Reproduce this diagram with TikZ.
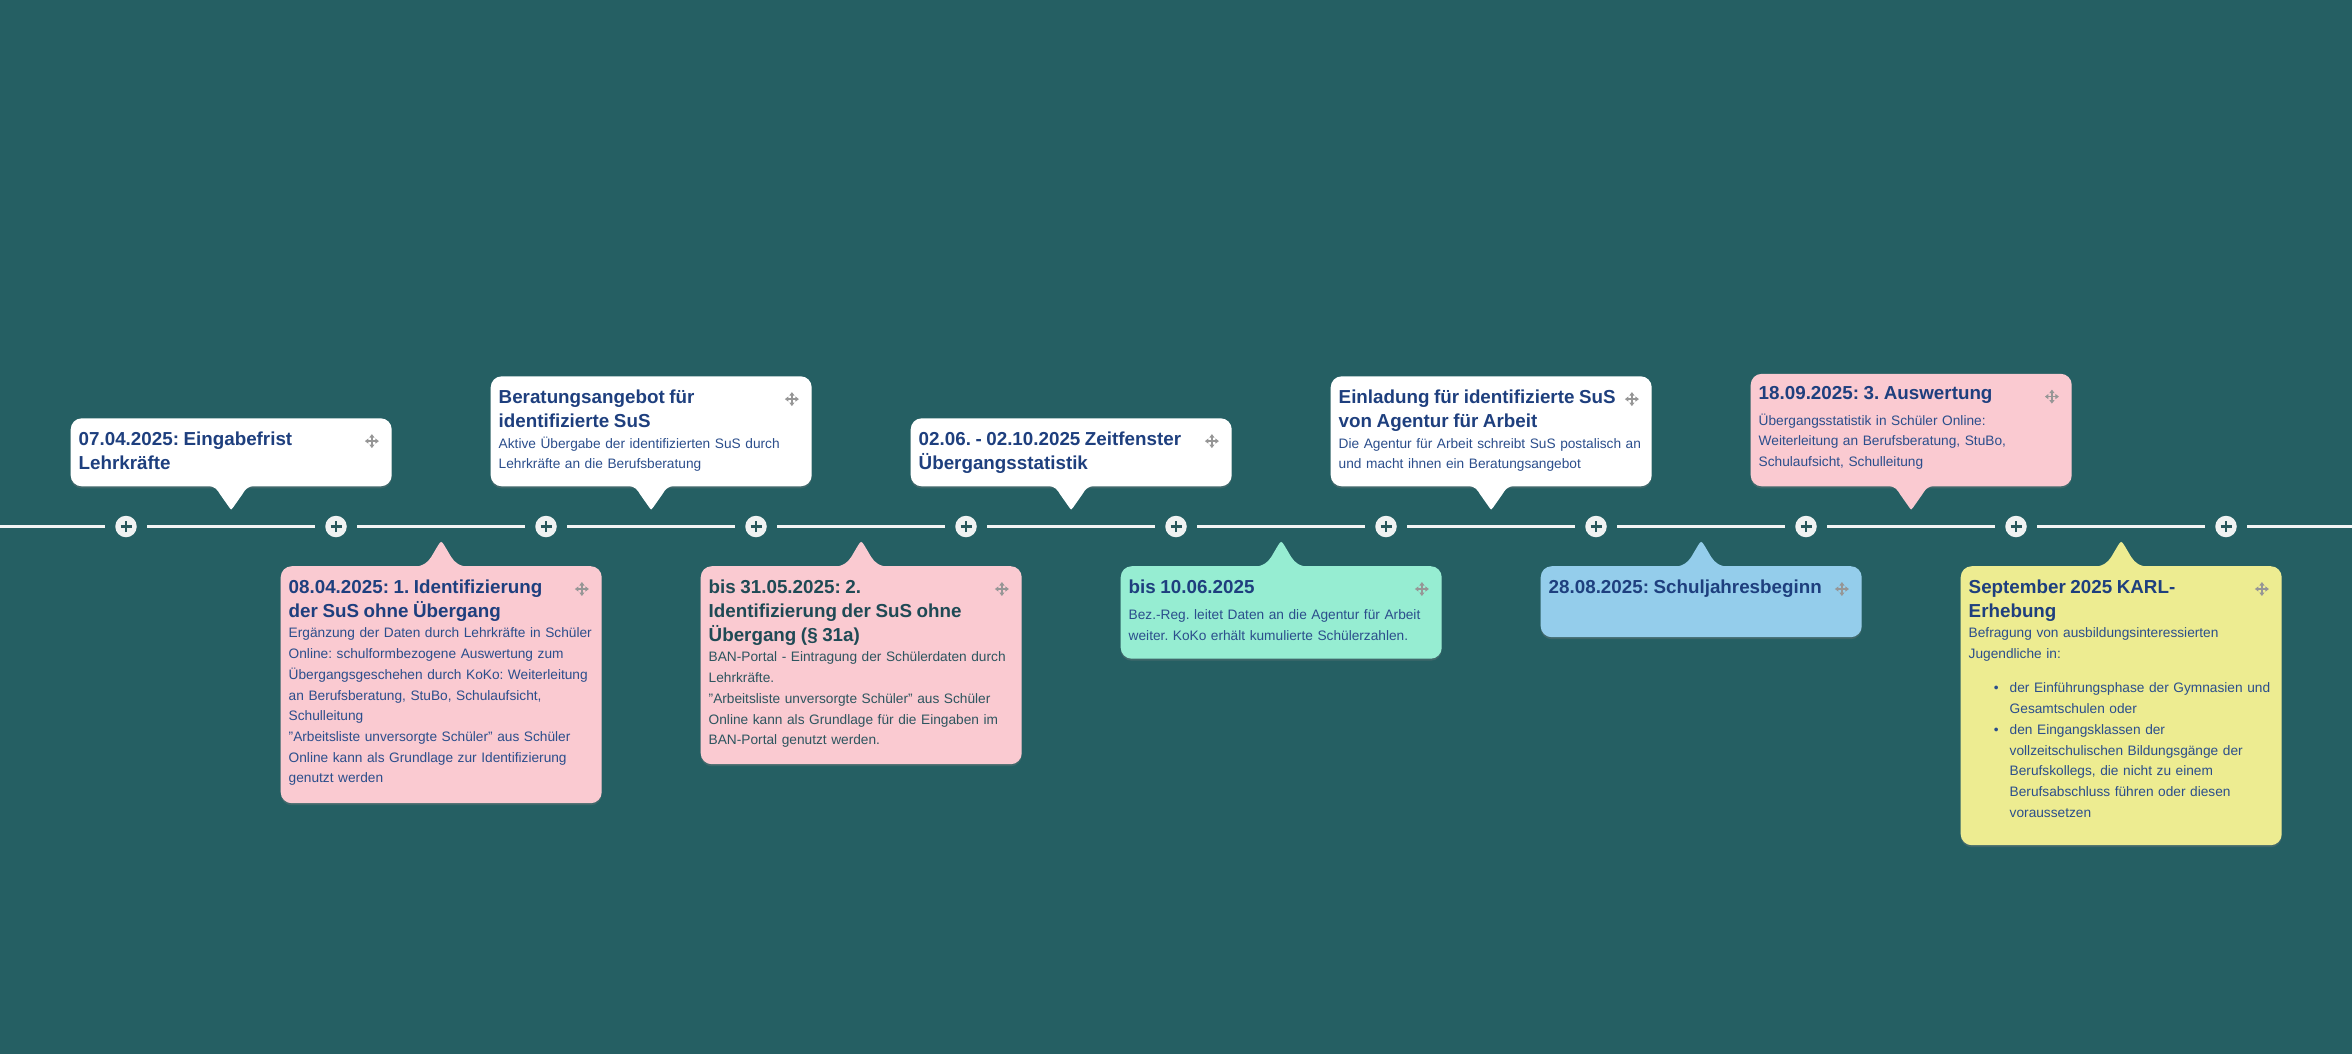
\documentclass[tikz,border=0pt]{standalone}
\usepackage{fontspec}
\setmainfont{Liberation Sans}
\usetikzlibrary{shadows,arrows.meta}
\frenchspacing

\definecolor{bgcol}{RGB}{37,95,99}
\definecolor{linecol}{RGB}{242,244,244}
\definecolor{pluscol}{RGB}{240,242,242}
\definecolor{plussign}{RGB}{40,88,92}
\definecolor{iconcol}{RGB}{150,150,150}
\definecolor{ttlc}{RGB}{30,63,126}
\definecolor{bdyc}{RGB}{43,78,140}
\definecolor{darkttl}{RGB}{31,74,85}
\definecolor{darkbdy}{RGB}{45,85,95}
\definecolor{pinkcol}{RGB}{250,202,209}
\definecolor{greencol}{RGB}{150,237,210}
\definecolor{bluecol}{RGB}{148,205,235}
\definecolor{yellowcol}{RGB}{237,236,145}

\newcommand{\evtitle}{\fontsize{18.8pt}{24pt}\selectfont\bfseries\color{ttlc}}

\begin{document}
\begin{tikzpicture}[x=1pt, y=-1pt,
      evbox/.style={rectangle,
                    rounded corners=11pt,
                    minimum width=321pt,
                    inner sep=0pt,
                    drop shadow={shadow xshift=0pt,
                                 shadow yshift=-2pt,
                                 opacity=0.3}},
      whitebox/.style={evbox, fill=white},
      pinkbox/.style={evbox, fill=pinkcol},
      greenbox/.style={evbox, fill=greencol},
      bluebox/.style={evbox, fill=bluecol},
      yellowbox/.style={evbox, fill=yellowcol},
      upper/.style={anchor=south west},
      lower/.style={anchor=north west},
      evtext/.style={anchor=north west,
                     inner sep=0pt,
                     text width=330pt,
                     align=left,
                     text=bdyc,
                     font=\fontsize{13.7pt}{20.7pt}\selectfont},
      tline/.style={draw=linecol, line width=3pt},
      plusmark/.style={draw=plussign, line width=2.2pt},
      plusnode/.style={circle,
                       fill=pluscol,
                       minimum size=21.5pt,
                       inner sep=0pt,
                       outer sep=10.5pt,
                       path picture={
                         \draw[plusmark]
                           ([xshift=-5.5pt]path picture bounding box.center) --
                           ([xshift=5.5pt]path picture bounding box.center)
                           ([yshift=-5.5pt]path picture bounding box.center) --
                           ([yshift=5.5pt]path picture bounding box.center);}},
      iconline/.style={draw=iconcol, line width=1.4pt,
                       {Triangle[width=5pt,length=3.5pt]}-{Triangle[width=5pt,length=3.5pt]}},
      moveicon/.pic={\draw[iconline] (-7,0) -- (7,0);
                     \draw[iconline] (0,-7) -- (0,7);},
      tipdown/.pic={\path[pic actions] (-24,-1) .. controls (-16,0) and (-14,3) .. (-11,8)
                       -- (-1.5,21.5) .. controls (0,23.5) .. (1.5,21.5)
                       -- (11,8) .. controls (14,3) and (16,0) .. (24,-1) -- cycle;},
      tipup/.pic={\path[pic actions] (-28,1) .. controls (-18,0) and (-14,-3) .. (-10,-9)
                       -- (-3.5,-20) .. controls (0,-25.5) .. (3.5,-20)
                       -- (10,-9) .. controls (14,-3) and (18,0) .. (28,1) -- cycle;}
    ]

    \useasboundingbox (0,0) rectangle (2352,1053);
    \fill[bgcol] (-6,-6) rectangle (2358,1059);

    \coordinate (tlstart) at (0,526.5);
    \coordinate (tlend) at (2352,526.5);
    \foreach \i in {0,...,10}
      \draw (126+210*\i,526.5) node[plusnode] (p\i) {};
    \draw[tline] (tlstart) -- (p0);
    \foreach \i [evaluate=\i as \j using int(\i+1)] in {0,...,9}
      \draw[tline] (p\i) -- (p\j);
    \draw[tline] (p10) -- (tlend);

    \draw (70.5,486.5)
          node[whitebox, upper, minimum height=68pt]
          (eingabe)
          {};
    \pic[fill=white] at (eingabe.south) {tipdown};
    \node[evtext] (eingabetext) at ([xshift=8pt,yshift=-7pt]eingabe.north west)
          {{\evtitle\rule{0pt}{20pt}07.04.2025: Eingabefrist\\Lehrkräfte\par}};
    \pic at ([xshift=-20pt,yshift=-23pt]eingabe.north east) {moveicon};

    \draw (280.5,566)
          node[pinkbox, lower, minimum height=237pt]
          (ident1)
          {};
    \pic[fill=pinkcol] at (ident1.north) {tipup};
    \node[evtext] (ident1text) at ([xshift=8pt,yshift=-7pt]ident1.north west)
          {{\evtitle\rule{0pt}{20pt}08.04.2025: 1. Identifizierung\\der SuS ohne Übergang\par}
           Ergänzung der Daten durch Lehrkräfte in Schüler\\Online: schulformbezogene Auswertung zum\\Übergangsgeschehen durch KoKo: Weiterleitung\\an Berufsberatung, StuBo, Schulaufsicht,\\Schulleitung\\"Arbeitsliste unversorgte Schüler" aus Schüler\\Online kann als Grundlage zur Identifizierung\\genutzt werden};
    \pic at ([xshift=-20pt,yshift=-23pt]ident1.north east) {moveicon};

    \draw (490.5,486.5)
          node[whitebox, upper, minimum height=110pt]
          (beratung)
          {};
    \pic[fill=white] at (beratung.south) {tipdown};
    \node[evtext] (beratungtext) at ([xshift=8pt,yshift=-7pt]beratung.north west)
          {{\evtitle\rule{0pt}{20pt}Beratungsangebot für\\identifizierte SuS\par}
           Aktive Übergabe der identifizierten SuS durch\\Lehrkräfte an die Berufsberatung};
    \pic at ([xshift=-20pt,yshift=-23pt]beratung.north east) {moveicon};

    \draw (700.5,566)
          node[pinkbox, lower, minimum height=198pt]
          (ident2)
          {};
    \pic[fill=pinkcol] at (ident2.north) {tipup};
    \node[evtext, text=darkbdy] (ident2text) at ([xshift=8pt,yshift=-7pt]ident2.north west)
          {{\evtitle\color{darkttl}\rule{0pt}{20pt}bis 31.05.2025: 2.\\Identifizierung der SuS ohne\\Übergang (§ 31a)\par}
           BAN-Portal - Eintragung der Schülerdaten durch\\Lehrkräfte.\\"Arbeitsliste unversorgte Schüler" aus Schüler\\Online kann als Grundlage für die Eingaben im\\BAN-Portal genutzt werden.};
    \pic at ([xshift=-20pt,yshift=-23pt]ident2.north east) {moveicon};

    \draw (910.5,486.5)
          node[whitebox, upper, minimum height=68pt]
          (zeitfenster)
          {};
    \pic[fill=white] at (zeitfenster.south) {tipdown};
    \node[evtext] (zeitfenstertext) at ([xshift=8pt,yshift=-7pt]zeitfenster.north west)
          {{\evtitle\rule{0pt}{20pt}02.06. - 02.10.2025 Zeitfenster\\Übergangsstatistik\par}};
    \pic at ([xshift=-20pt,yshift=-23pt]zeitfenster.north east) {moveicon};

    \draw (1120.5,566)
          node[greenbox, lower, minimum height=92.5pt]
          (bezreg)
          {};
    \pic[fill=greencol] at (bezreg.north) {tipup};
    \node[evtext] (bezregtext) at ([xshift=8pt,yshift=-7pt]bezreg.north west)
          {{\evtitle\rule{0pt}{20pt}bis 10.06.2025\par}\vspace{6pt}
           Bez.-Reg. leitet Daten an die Agentur für Arbeit\\weiter. KoKo erhält kumulierte Schülerzahlen.};
    \pic at ([xshift=-20pt,yshift=-23pt]bezreg.north east) {moveicon};

    \draw (1330.5,486.5)
          node[whitebox, upper, minimum height=110pt]
          (einladung)
          {};
    \pic[fill=white] at (einladung.south) {tipdown};
    \node[evtext] (einladungtext) at ([xshift=8pt,yshift=-7pt]einladung.north west)
          {{\evtitle\rule{0pt}{20pt}Einladung für identifizierte SuS\\von Agentur für Arbeit\par}
           Die Agentur für Arbeit schreibt SuS postalisch an\\und macht ihnen ein Beratungsangebot};
    \pic at ([xshift=-20pt,yshift=-23pt]einladung.north east) {moveicon};

    \draw (1540.5,566)
          node[bluebox, lower, minimum height=71pt]
          (schuljahr)
          {};
    \pic[fill=bluecol] at (schuljahr.north) {tipup};
    \node[evtext] (schuljahrtext) at ([xshift=8pt,yshift=-7pt]schuljahr.north west)
          {{\evtitle\rule{0pt}{20pt}28.08.2025: Schuljahresbeginn\par}};
    \pic at ([xshift=-20pt,yshift=-23pt]schuljahr.north east) {moveicon};

    \draw (1750.5,486.5)
          node[pinkbox, upper, minimum height=112.5pt]
          (auswertung)
          {};
    \pic[fill=pinkcol] at (auswertung.south) {tipdown};
    \node[evtext] (auswertungtext) at ([xshift=8pt,yshift=-6pt]auswertung.north west)
          {{\evtitle\rule{0pt}{20pt}18.09.2025: 3. Auswertung\par}\vspace{4.5pt}
           Übergangsstatistik in Schüler Online:\\Weiterleitung an Berufsberatung, StuBo,\\Schulaufsicht, Schulleitung};
    \pic at ([xshift=-20pt,yshift=-23pt]auswertung.north east) {moveicon};

    \draw (1960.5,566)
          node[yellowbox, lower, minimum height=279pt]
          (karl)
          {};
    \pic[fill=yellowcol] at (karl.north) {tipup};
    \node[evtext] (karltext) at ([xshift=8pt,yshift=-7pt]karl.north west)
          {{\evtitle\rule{0pt}{20pt}September 2025 KARL-\\Erhebung\par}
           Befragung von ausbildungsinteressierten\\Jugendliche in:\par
           \vspace{13.6pt}
           {\leftskip=41pt
            \leavevmode\llap{\textbullet\hspace{11pt}}der Einführungsphase der Gymnasien und\\Gesamtschulen oder\par
            \leavevmode\llap{\textbullet\hspace{11pt}}den Eingangsklassen der\\vollzeitschulischen Bildungsgänge der\\Berufskollegs, die nicht zu einem\\Berufsabschluss führen oder diesen\\voraussetzen\par}};
    \pic at ([xshift=-20pt,yshift=-23pt]karl.north east) {moveicon};

\end{tikzpicture}
\end{document}
